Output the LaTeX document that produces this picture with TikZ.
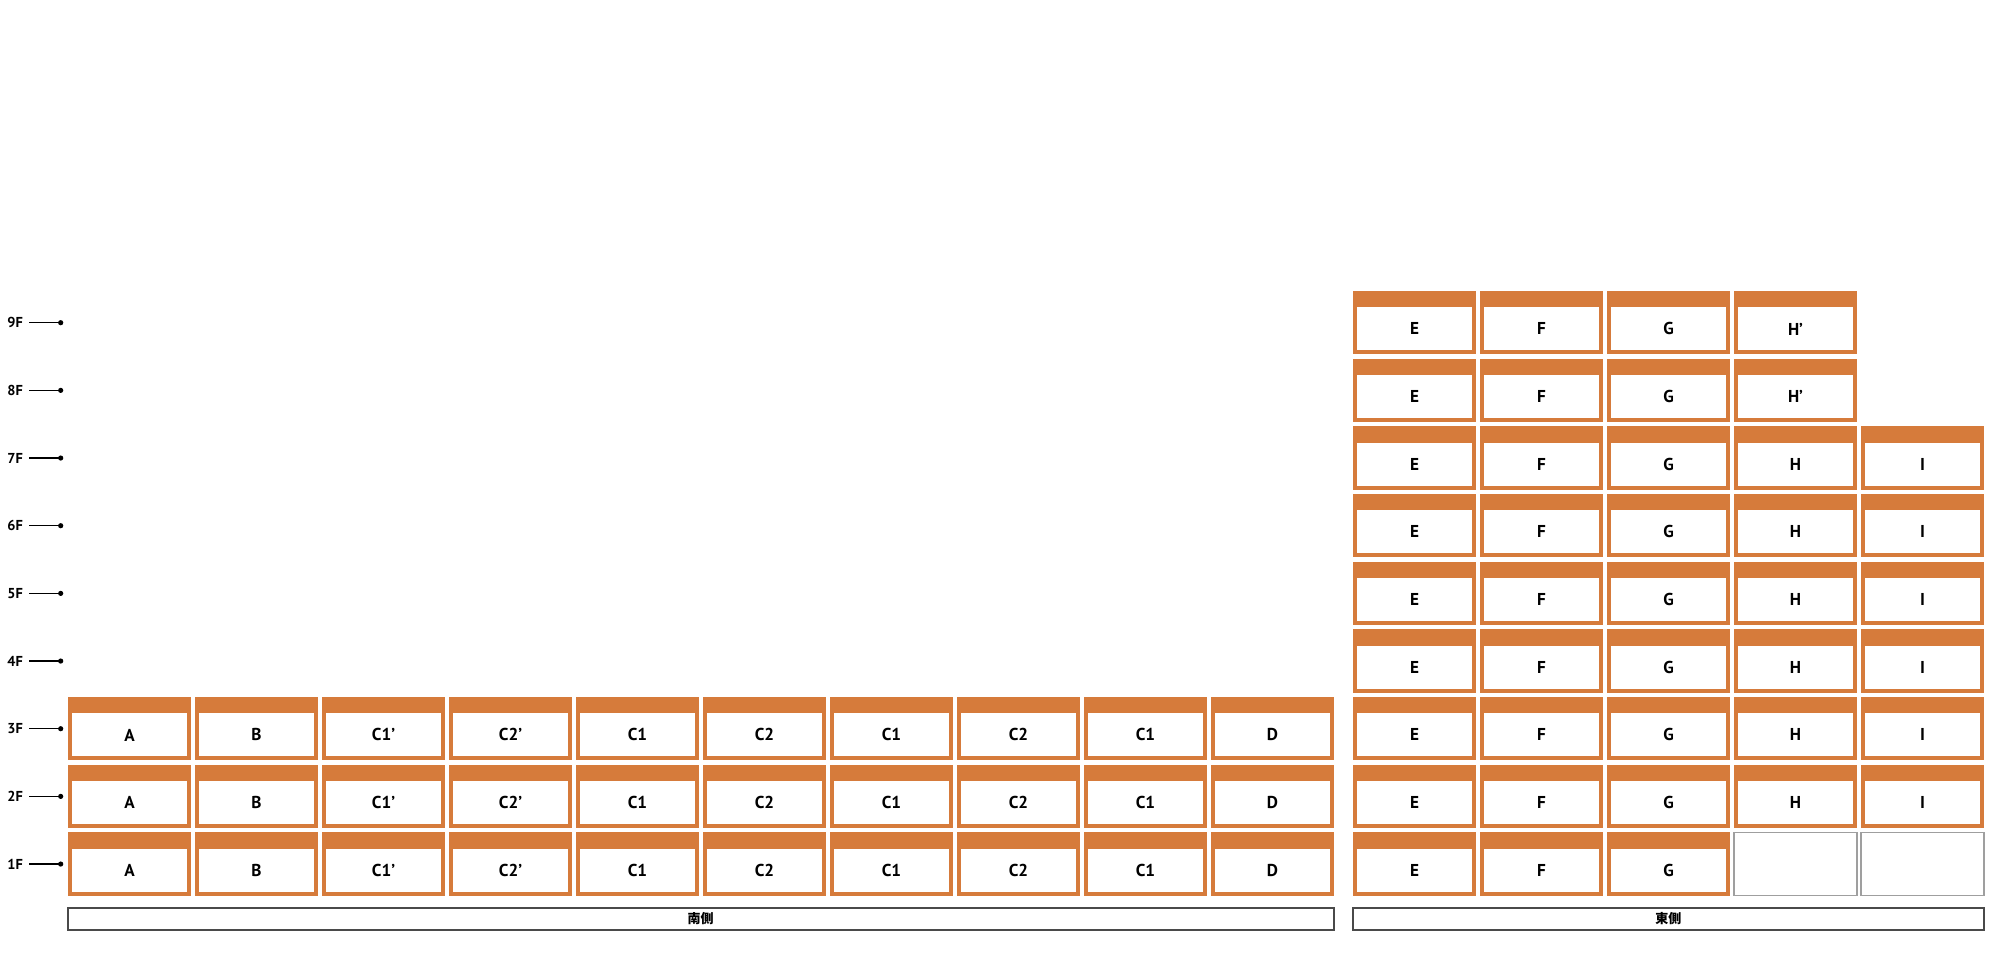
\documentclass[tikz,border=0pt]{standalone}
\usepackage{fontspec}
\setmainfont{PT Sans}
\newfontfamily\jpfont{Noto Sans CJK JP}
\definecolor{unitorange}{HTML}{D67B3B}
\definecolor{barline}{HTML}{4A4A4A}
\tikzset{
  unitlabel/.style  = {font=\bfseries\fontsize{8.6}{10}\selectfont,inner sep=0pt},
  floorlabel/.style = {font=\bfseries\fontsize{7.2}{8}\selectfont,inner sep=0pt,anchor=west},
  floorline/.style  = {line width=0.7pt,shorten <=3pt},
  sidebar/.style    = {draw=barline,line width=0.9pt,minimum height=11pt,inner sep=0pt,
                       font=\jpfont\bfseries\fontsize{6.5}{8}\selectfont},
  vacant/.style     = {draw=gray!75,line width=0.6pt}
}
\newcommand{\unitcell}[4]{% name, left, top, label
  \fill[unitorange] (#2,#3) rectangle ++(123,63.5);
  \fill[white] (#2+4,#3+16.5) rectangle (#2+119,#3+59.5);
  \node[unitlabel] (#1) at (#2+61.5,#3+38) {#4};
}
\begin{document}
\begin{tikzpicture}[x=0.5pt,y=-0.5pt]
  \useasboundingbox (0,0) rectangle (2000,963);
  % floor markers
  \foreach \f in {1,...,9}{
    \pgfmathsetmacro\yc{864.05-(\f-1)*67.67}
    \node[floorlabel] (fl\f) at (7,\yc) {\f F};
    \coordinate (dot\f) at (60.7,\yc);
    \draw[floorline] (fl\f) -- (dot\f);
    \fill (dot\f) circle (2.6);
  }
  % south wing
  \foreach \lab [count=\i from 0] in {A,B,C1’,C2’,C1,C2,C1,C2,C1,D}{
    \foreach \f in {1,2,3}{
      \pgfmathsetmacro\xl{68+127*\i}
      \pgfmathsetmacro\yt{832.3-(\f-1)*67.67}
      \unitcell{s\f-\i}{\xl}{\yt}{\lab}
    }
  }
  % east wing
  \foreach \lab [count=\j from 0] in {E,F,G}{
    \foreach \f in {1,...,9}{
      \pgfmathsetmacro\xl{1353+127*\j}
      \pgfmathsetmacro\yt{832.3-(\f-1)*67.67}
      \unitcell{e\f-\j}{\xl}{\yt}{\lab}
    }
  }
  \foreach \f in {2,...,7}{
    \pgfmathsetmacro\yt{832.3-(\f-1)*67.67}
    \unitcell{e\f-3}{1734}{\yt}{H}
    \unitcell{e\f-4}{1861}{\yt}{I}
  }
  \foreach \f in {8,9}{
    \pgfmathsetmacro\yt{832.3-(\f-1)*67.67}
    \unitcell{e\f-3}{1734}{\yt}{H’}
  }
  \draw[vacant] (1734,832.3) rectangle ++(123,63.5);
  \draw[vacant] (1861,832.3) rectangle ++(123,63.5);
  % wing bars
  \node[sidebar,minimum width=633pt] (south) at (700.7,918.7) {南側};
  \node[sidebar,minimum width=315.3pt] (east) at (1668.3,918.7) {東側};
\end{tikzpicture}
\end{document}
